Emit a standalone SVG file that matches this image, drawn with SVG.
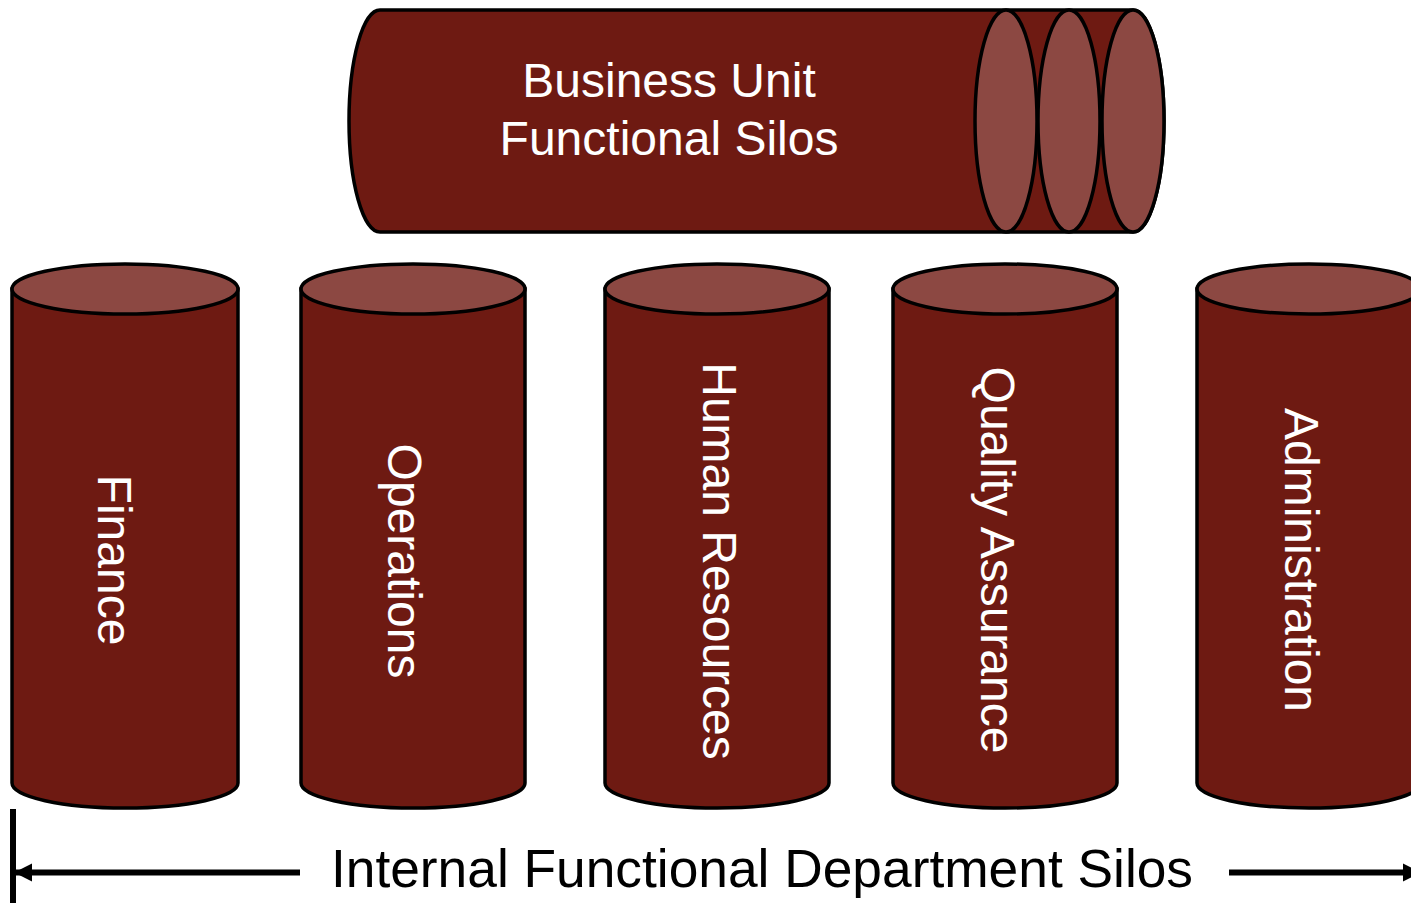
<svg xmlns="http://www.w3.org/2000/svg" width="1411" height="903" viewBox="0 0 1411 903">
<style>
.body{fill:#6E1A12;stroke:#000;stroke-width:3.5}
.cap{fill:#8C4842;stroke:#000;stroke-width:3.5}
.lbl{font-family:"Liberation Sans",Arial,sans-serif;fill:#fff;font-size:48px;text-anchor:middle;dominant-baseline:central}
.ttl{font-family:"Liberation Sans",Arial,sans-serif;fill:#000;font-size:53.3px;text-anchor:middle}
.ttw{font-family:"Liberation Sans",Arial,sans-serif;fill:#fff;font-size:48px;text-anchor:middle}
.ln{stroke:#000;stroke-width:6;fill:none}
</style>
<defs>
<marker id="ah" viewBox="0 0 10 10" refX="9" refY="5" markerWidth="3" markerHeight="3.2" orient="auto" markerUnits="strokeWidth">
<path d="M0,0 L10,5 L0,10 Z" fill="#000"/>
</marker>
</defs>
<g id="business-unit">
<path class="body" d="M380,10 L1133,10 A31 111 0 0 1 1133,232 L380,232 A31 111 0 0 1 380,10 Z"/>
<ellipse class="cap" cx="1006" cy="121" rx="31" ry="111"/>
<ellipse class="cap" cx="1069" cy="121" rx="31" ry="111"/>
<ellipse class="cap" cx="1133" cy="121" rx="31" ry="111"/>
<text class="ttw" x="669" y="97">Business Unit</text>
<text class="ttw" x="669" y="155">Functional Silos</text>
</g>
<g id="finance">
<path class="body" d="M12,289 L12,783 A113 25 0 0 0 238,783 L238,289 Z"/>
<ellipse class="cap" cx="125" cy="289" rx="113" ry="25"/>
<text class="lbl" transform="rotate(90 114 560)" x="114" y="560">Finance</text>
</g>
<g id="operations">
<path class="body" d="M301,289 L301,783 A112 25 0 0 0 525,783 L525,289 Z"/>
<ellipse class="cap" cx="413" cy="289" rx="112" ry="25"/>
<text class="lbl" transform="rotate(90 404 561)" x="404" y="561">Operations</text>
</g>
<g id="human-resources">
<path class="body" d="M605,289 L605,783 A112 25 0 0 0 829,783 L829,289 Z"/>
<ellipse class="cap" cx="717" cy="289" rx="112" ry="25"/>
<text class="lbl" transform="rotate(90 719 561)" x="719" y="561">Human Resources</text>
</g>
<g id="quality-assurance">
<path class="body" d="M893,289 L893,783 A112 25 0 0 0 1117,783 L1117,289 Z"/>
<ellipse class="cap" cx="1005" cy="289" rx="112" ry="25"/>
<text class="lbl" transform="rotate(90 997 560)" x="997" y="560">Quality Assurance</text>
</g>
<g id="administration">
<path class="body" d="M1197,289 L1197,783 A112 25 0 0 0 1421,783 L1421,289 Z"/>
<ellipse class="cap" cx="1309" cy="289" rx="112" ry="25"/>
<text class="lbl" transform="rotate(90 1301 560)" x="1301" y="560">Administration</text>
</g>
<g id="connectors">
<line class="ln" x1="13" y1="809" x2="13" y2="903"/>
<line class="ln" x1="300" y1="872.5" x2="16" y2="872.5" marker-end="url(#ah)"/>
<line class="ln" x1="1229" y1="872.5" x2="1419" y2="872.5" marker-end="url(#ah)"/>
</g>
<text class="ttl" x="762" y="887">Internal Functional Department Silos</text>
</svg>
